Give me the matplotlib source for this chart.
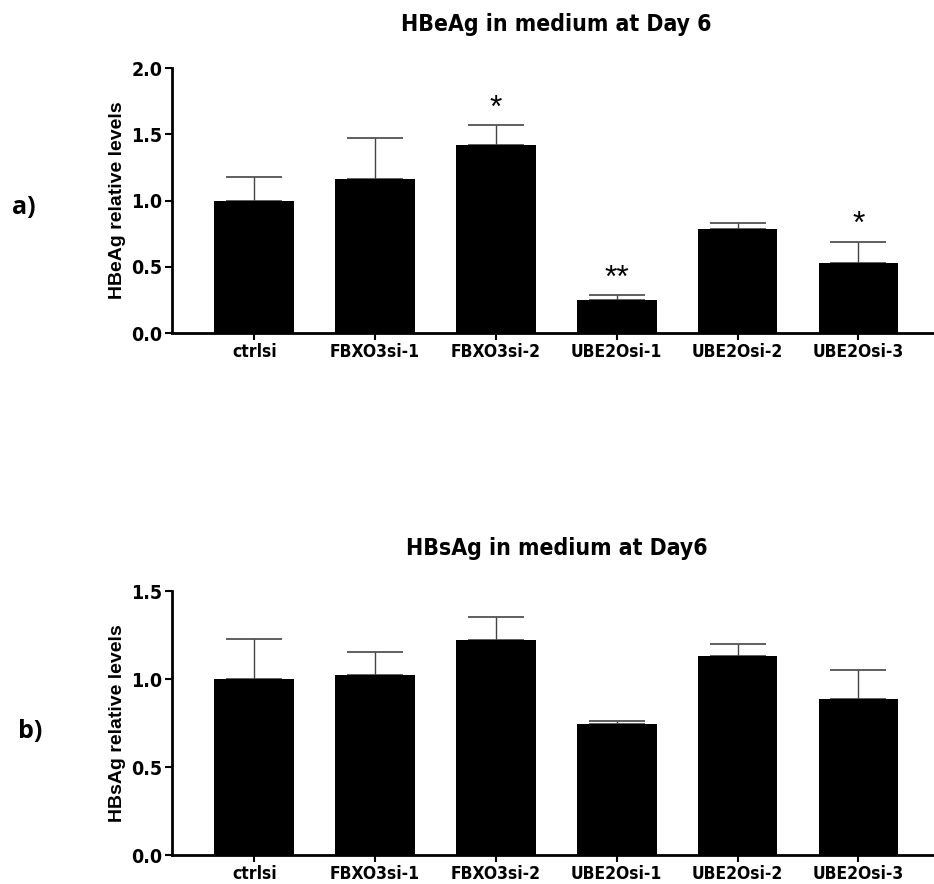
import numpy as np
import matplotlib
matplotlib.use("Agg")
import matplotlib.pyplot as plt

groups = ['ctrlsi', 'FBXO3si-1', 'FBXO3si-2', 'UBE2Osi-1', 'UBE2Osi-2', 'UBE2Osi-3']

hbeag = [1.00, 1.16, 1.42, 0.25, 0.79, 0.53]
hbeag_err = [0.18, 0.31, 0.15, 0.035, 0.04, 0.16]
hbeag_sig = ['', '', '*', '**', '', '*']

hbsag = [1.00, 1.025, 1.22, 0.745, 1.13, 0.885]
hbsag_err = [0.225, 0.13, 0.13, 0.018, 0.07, 0.167]

bold = ['Liberation Sans', 'DejaVu Sans']
cond = dict(family='DejaVu Sans', stretch='condensed', fontweight='bold')

fig = plt.figure(figsize=(9.34, 8.84), dpi=100)


def panel(rect, vals, errs, ymax, ylabel, title, title_y, tag, tag_x, tag_y, sig=None):
    ax = fig.add_axes(rect)
    x = np.arange(len(groups))
    ax.bar(x, vals, width=0.66, color='black', zorder=2)
    _, caps, stems = ax.errorbar(x, vals, yerr=[np.zeros(len(errs)), errs], fmt='none',
                                 ecolor='#444444', elinewidth=1.0, capsize=20,
                                 capthick=1.2, zorder=1)
    for c in caps:
        c.set_color('#8c8c8c')
    ax.set_xlim(-0.68, 5.72)
    ax.set_ylim(0, ymax)
    ticks = np.arange(0, ymax + 0.01, 0.5)
    ax.set_yticks(ticks)
    ax.set_yticklabels(['%.1f' % v for v in ticks], fontsize=14, **cond)
    ax.set_xticks(x)
    ax.set_xticklabels(groups, fontsize=12.5, **cond)
    for s in ['top', 'right']:
        ax.spines[s].set_visible(False)
    for s in ['left', 'bottom']:
        ax.spines[s].set_linewidth(2)
    ax.tick_params(axis='both', direction='out', length=5, width=1.5, pad=2)
    ax.set_ylabel(ylabel, family=bold, fontweight='bold', fontsize=14, labelpad=4)
    if sig:
        for i, s in enumerate(sig):
            if s:
                ax.text(i, vals[i] + errs[i] + 0.006 * ymax, s, ha='center', va='bottom',
                        fontsize=23, family=bold)
    fig.text(0.596, title_y, title, ha='center', va='center', fontsize=16.5, **cond)
    fig.text(tag_x, tag_y, tag, ha='center', va='center', family=['Open Sans', 'DejaVu Sans'],
             fontweight='bold', fontsize=18)
    return ax


panel([0.1842, 0.623, 0.828, 0.300], hbeag, hbeag_err, 2.0, 'HBeAg relative levels',
      'HBeAg in medium at Day 6', 0.972, 'a)', 0.025, 0.765, sig=hbeag_sig)
panel([0.1842, 0.0328, 0.828, 0.2986], hbsag, hbsag_err, 1.5, 'HBsAg relative levels',
      'HBsAg in medium at Day6', 0.38, 'b)', 0.032, 0.172)

fig.savefig('out.png', dpi=100)
